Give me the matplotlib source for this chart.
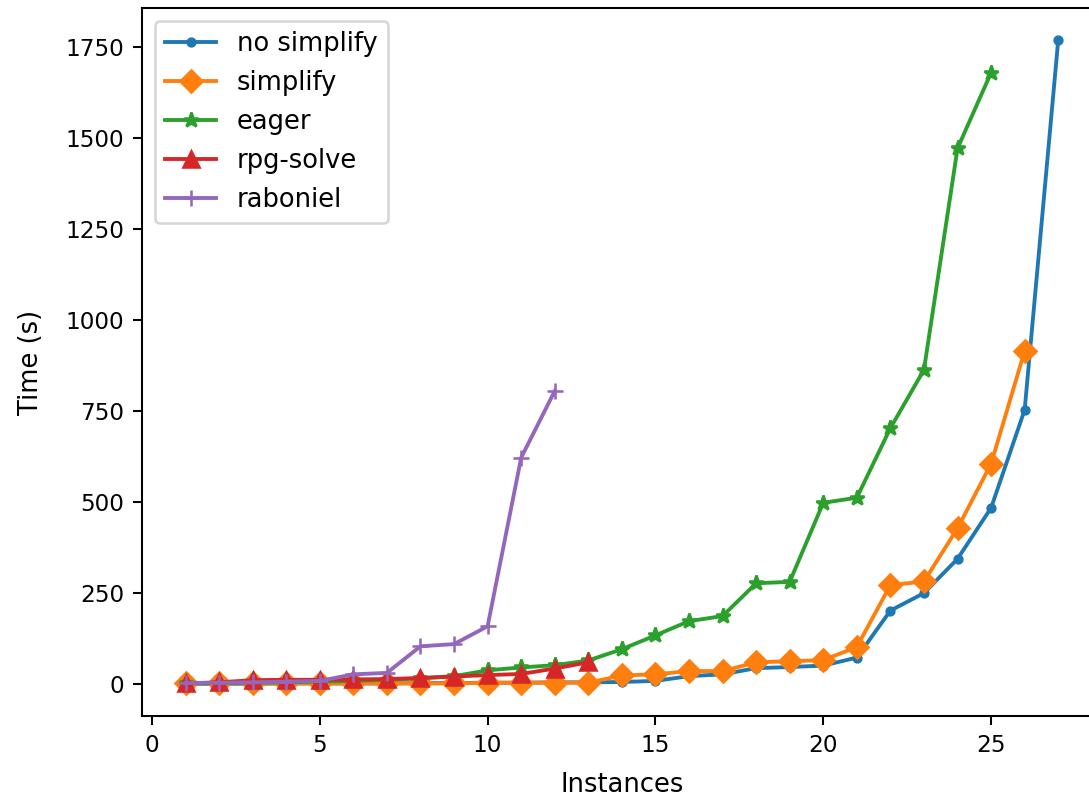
import matplotlib
matplotlib.use("Agg")
import matplotlib.pyplot as plt

# Solving time per instance (sorted), in seconds
no_simplify = [1, 1, 1, 2, 2, 2, 2, 3, 3, 4, 4, 5, 5, 6, 9, 22, 27, 44, 47, 51,
               73, 202, 250, 344, 484, 753, 1768]
simplify = [4, 3, 2, 2, 2, 2, 2, 2, 2, 4, 4, 4, 4, 24, 27, 36, 36, 60, 63, 66,
            102, 272, 282, 428, 605, 915]
eager = [2, 3, 4, 5, 7, 9, 12, 16, 22, 38, 46, 52, 65, 96, 134, 173, 187, 277,
         281, 498, 512, 703, 863, 1471, 1679]
rpg_solve = [2, 5, 11, 12, 12, 13, 14, 17, 21, 25, 28, 43, 60]
raboniel = [3, 4, 5, 7, 9, 27, 31, 104, 110, 159, 622, 805]

series = [
    ("no simplify", no_simplify, "."),
    ("simplify", simplify, "D"),
    ("eager", eager, "*"),
    ("rpg-solve", rpg_solve, "^"),
    ("raboniel", raboniel, "+"),
]

DPI = 185
fig = plt.figure(figsize=(1089 / DPI, 799 / DPI), dpi=DPI)
ax = fig.add_axes([0.1303, 0.1039, 0.8815, 0.886])

for label, values, marker in series:
    xs = list(range(1, len(values) + 1))
    ax.plot(xs, values, marker=marker, label=label)

ax.tick_params(labelsize=9)
ax.set_xlabel("Instances", fontsize=10, labelpad=6)
ax.set_ylabel("Time (s)", fontsize=10, labelpad=8)
ax.legend(loc="upper left", fontsize=10)

fig.savefig("out.png", dpi=DPI)
